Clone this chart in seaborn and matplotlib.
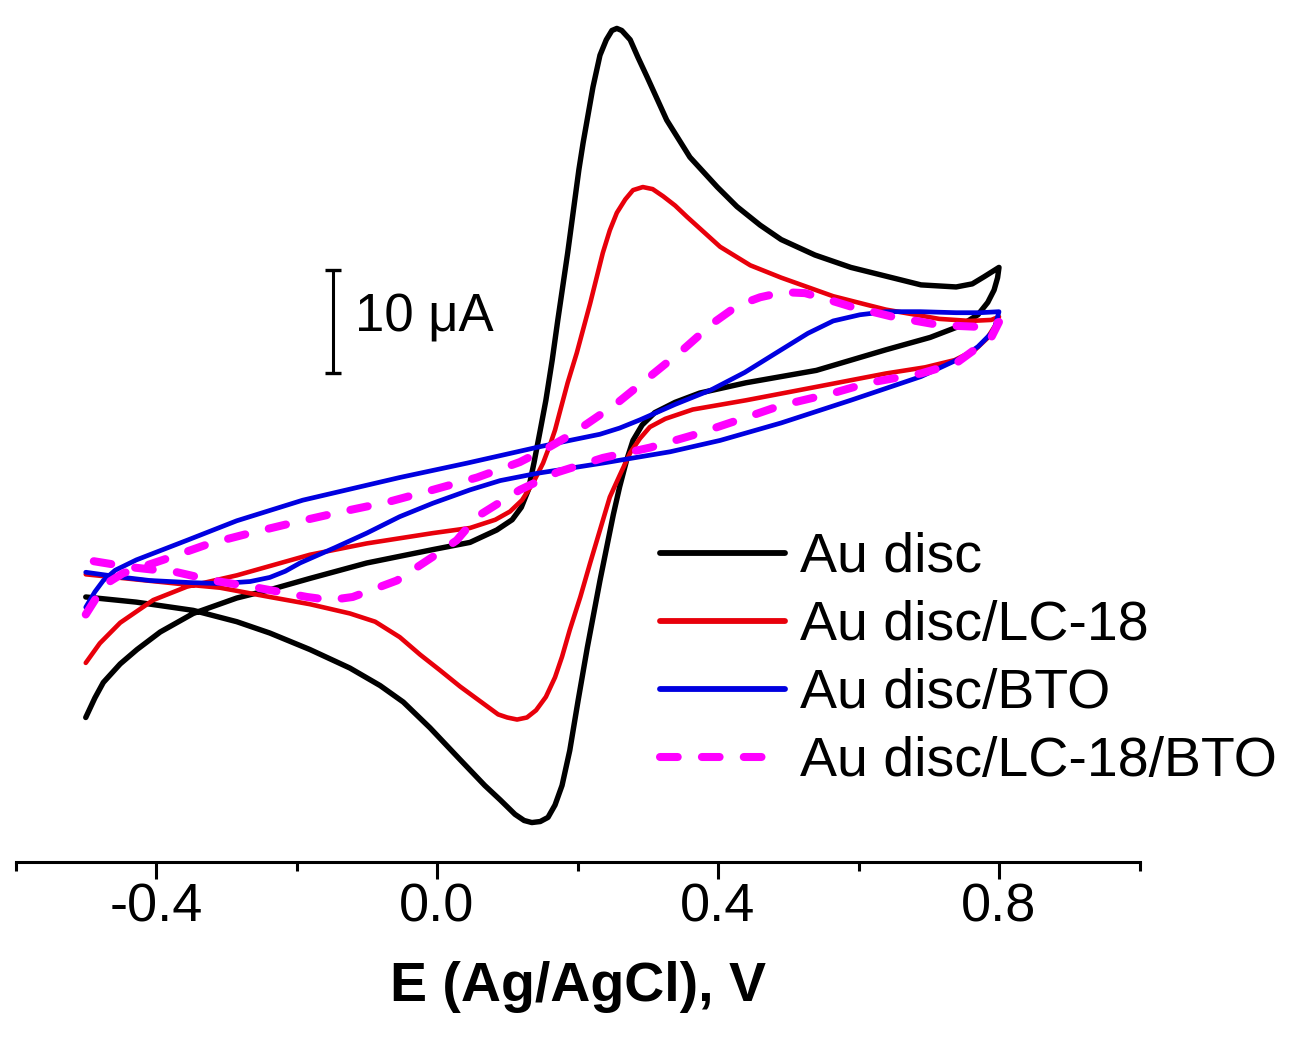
import numpy as np
import pandas as pd
import matplotlib
matplotlib.use('Agg')
import matplotlib.pyplot as plt
import seaborn as sns

# cyclic voltammograms
# potential in V vs Ag/AgCl, current in uA (zero is arbitrary, only the scale bar matters)
# each electrode: forward (anodic) sweep from -0.5 V to 0.8 V, then reverse sweep back to -0.5 V

au_fwd_E = [-0.50, -0.487, -0.475, -0.451, -0.427, -0.394, -0.347, -0.285, -0.238, -0.181, -0.10, -0.006,
            0.047, 0.085, 0.107, 0.120, 0.130, 0.138, 0.147, 0.155, 0.164, 0.172, 0.186, 0.202,
            0.208, 0.222, 0.232, 0.241, 0.249, 0.256, 0.263, 0.275, 0.286, 0.299, 0.327, 0.360,
            0.399, 0.427, 0.460, 0.490, 0.538, 0.589, 0.689, 0.739, 0.762, 0.779, 0.80]
au_fwd_I = [-25.0, -23.1, -21.6, -19.8, -18.4, -16.7, -14.9, -13.4, -12.6, -11.5, -10.0, -8.7,
            -8.0, -6.8, -5.8, -4.6, -2.9, -0.3, 2.9, 5.8, 9.7, 13.6, 20.1, 28.2,
            30.8, 36.2, 39.3, 40.8, 41.7, 41.9, 41.7, 40.8, 39.1, 37.2, 33.0, 29.4,
            26.5, 24.6, 22.8, 21.4, 19.9, 18.7, 17.0, 16.8, 17.1, 17.8, 18.7]
au_rev_E = [0.798, 0.793, 0.784, 0.770, 0.744, 0.702, 0.639, 0.540, 0.440, 0.374, 0.339, 0.310,
            0.292, 0.279, 0.270, 0.260, 0.251, 0.232, 0.214, 0.201, 0.189, 0.178, 0.168, 0.158,
            0.147, 0.135, 0.124, 0.111, 0.090, 0.068, 0.033, -0.010, -0.048, -0.081, -0.124, -0.181,
            -0.238, -0.285, -0.347, -0.428, -0.50]
au_rev_I = [17.7, 16.5, 15.3, 14.1, 13.0, 11.9, 10.7, 8.7, 7.5, 6.5, 5.6, 4.6,
            3.4, 1.9, 0.0, -2.6, -5.3, -11.7, -18.2, -23.3, -28.2, -31.6, -33.5, -34.7,
            -35.1, -35.2, -35.0, -34.4, -33.0, -31.6, -29.1, -26.0, -23.5, -21.9, -20.2, -18.4,
            -16.8, -15.7, -14.6, -13.8, -13.3]

lc_fwd_E = [-0.50, -0.480, -0.451, -0.404, -0.356, -0.285, -0.181, -0.10, -0.006, 0.047, 0.083, 0.104,
            0.121, 0.137, 0.151, 0.161, 0.168, 0.175, 0.186, 0.199, 0.218, 0.236, 0.246, 0.256,
            0.268, 0.279, 0.293, 0.307, 0.322, 0.339, 0.356, 0.403, 0.446, 0.490, 0.564, 0.639,
            0.715, 0.759, 0.789, 0.80]
lc_fwd_I = [-19.7, -17.8, -15.8, -13.6, -12.3, -11.2, -9.2, -8.1, -7.1, -6.6, -5.8, -5.0,
            -3.9, -2.2, -0.3, 1.5, 2.9, 4.7, 7.5, 10.4, 15.2, 20.1, 22.3, 24.0,
            25.3, 26.2, 26.5, 26.3, 25.6, 24.7, 23.6, 20.7, 18.9, 17.7, 15.9, 14.6,
            13.7, 13.5, 13.6, 13.9]
lc_rev_E = [0.794, 0.783, 0.766, 0.737, 0.695, 0.639, 0.540, 0.440, 0.364, 0.325, 0.303, 0.289,
            0.275, 0.260, 0.246, 0.232, 0.218, 0.204, 0.189, 0.178, 0.168, 0.155, 0.141, 0.128,
            0.114, 0.100, 0.087, 0.061, 0.033, 0.004, -0.024, -0.053, -0.088, -0.124, -0.181, -0.238,
            -0.309, -0.356, -0.428, -0.50]
lc_rev_I = [13.0, 11.8, 10.7, 9.7, 9.0, 8.4, 7.1, 5.8, 4.9, 4.0, 3.2, 2.1,
            0.7, -1.5, -3.6, -6.8, -10.0, -13.3, -16.5, -19.1, -21.1, -23.0, -24.3, -25.0,
            -25.2, -25.0, -24.7, -23.4, -22.0, -20.4, -18.9, -17.2, -15.7, -14.9, -14.0, -13.3,
            -12.4, -12.1, -11.6, -11.1]

bto_fwd_E = [-0.50, -0.487, -0.475, -0.458, -0.428, -0.356, -0.285, -0.191, -0.053, 0.043, 0.147, 0.189,
             0.232, 0.260, 0.289, 0.339, 0.390, 0.438, 0.490, 0.528, 0.564, 0.602, 0.639, 0.688,
             0.739, 0.773, 0.80]
bto_fwd_I = [-14.3, -12.8, -11.7, -10.7, -9.7, -7.8, -5.9, -3.9, -1.7, -0.3, 1.3, 1.9,
             2.5, 3.1, 3.9, 5.4, 6.8, 8.5, 10.7, 12.3, 13.5, 14.1, 14.4, 14.4,
             14.3, 14.3, 14.4]
bto_rev_E = [0.794, 0.789, 0.770, 0.749, 0.689, 0.589, 0.490, 0.403, 0.332, 0.236, 0.142, 0.090,
             0.047, -0.006, -0.053, -0.10, -0.145, -0.195, -0.216, -0.238, -0.266, -0.309, -0.352, -0.409,
             -0.458, -0.50]
bto_rev_I = [12.9, 12.3, 11.0, 10.0, 8.1, 5.8, 3.6, 1.9, 0.8, -0.3, -1.3, -2.0,
             -2.9, -4.2, -5.5, -7.1, -8.5, -10.0, -10.8, -11.4, -11.8, -12.0, -11.9, -11.7,
             -11.3, -10.9]

lcbto_fwd_E = [-0.50, -0.487, -0.473, -0.447, -0.390, -0.323, -0.266, -0.199, -0.134, -0.071, -0.006, 0.057,
               0.118, 0.161, 0.194, 0.256, 0.303, 0.350, 0.393, 0.428, 0.460, 0.493, 0.524, 0.560,
               0.589, 0.649, 0.715, 0.779, 0.80]
lcbto_fwd_I = [-15.0, -13.6, -12.1, -11.0, -9.7, -8.1, -7.1, -6.0, -5.0, -4.1, -2.9, -1.7,
               -0.2, 1.3, 2.6, 5.5, 8.1, 10.7, 13.3, 15.0, 15.8, 16.3, 16.2, 15.5,
               14.9, 13.9, 13.1, 12.9, 13.4]
lcbto_rev_E = [0.789, 0.739, 0.689, 0.615, 0.564, 0.490, 0.430, 0.364, 0.303, 0.236, 0.171, 0.118,
               0.057, 0.028, -0.006, -0.057, -0.120, -0.152, -0.185, -0.256, -0.319, -0.370, -0.437, -0.50]
lcbto_rev_I = [11.9, 9.4, 8.4, 7.5, 6.5, 5.3, 3.9, 2.4, 1.2, 0.2, -1.2, -2.9,
               -5.5, -7.8, -9.4, -11.7, -13.3, -13.6, -13.3, -12.4, -11.7, -10.9, -10.4, -9.7]

labels = ['Au disc', 'Au disc/LC-18', 'Au disc/BTO', 'Au disc/LC-18/BTO']
scale_bar_uA = 10

series = {
    labels[0]: (au_fwd_E + au_rev_E, au_fwd_I + au_rev_I),
    labels[1]: (lc_fwd_E + lc_rev_E, lc_fwd_I + lc_rev_I),
    labels[2]: (bto_fwd_E + bto_rev_E, bto_fwd_I + bto_rev_I),
    labels[3]: (lcbto_fwd_E + lcbto_rev_E, lcbto_fwd_I + lcbto_rev_I),
}
frames = []
for name, (e, i) in series.items():
    frames.append(pd.DataFrame({'E': e, 'I': i, 'electrode': name, 'step': np.arange(len(e))}))
df = pd.concat(frames, ignore_index=True)

colors = {labels[0]: '#000000', labels[1]: '#e8000b', labels[2]: '#0000e0', labels[3]: '#ff00ff'}
widths = {labels[0]: 3.9, labels[1]: 3.3, labels[2]: 3.4, labels[3]: 5.8}

sns.set_style('white')
plt.rcParams['font.family'] = ['Liberation Sans', 'DejaVu Sans']
plt.rcParams['axes.unicode_minus'] = False
plt.rcParams['text.color'] = 'black'
plt.rcParams['axes.labelcolor'] = 'black'
plt.rcParams['xtick.color'] = 'black'
plt.rcParams['axes.edgecolor'] = 'black'

fig = plt.figure(figsize=(12.96, 10.39), dpi=100)
ax = fig.add_axes([15.5 / 1296, 177 / 1039, 1124 / 1296, 862 / 1039])

for name in labels:
    sub = df[df['electrode'] == name]
    kw = {}
    if name == labels[3]:
        kw = dict(linestyle=(0, (2.2, 3.0)), dash_capstyle='round')
    sns.lineplot(data=sub, x='E', y='I', sort=False, estimator=None, ax=ax,
                 color=colors[name], lw=widths[name], label=name, **kw)

ax.set_xlim(-0.6, 1.0)
ax.set_ylim(-39.03, 44.66)

# scale bar
sb_x = -0.148
sb_y0 = 8.45
ax.plot([sb_x, sb_x], [sb_y0, sb_y0 + scale_bar_uA], color='black', lw=2.2)
ax.plot([sb_x, sb_x], [sb_y0, sb_y0 + scale_bar_uA], ls='none', marker='_',
        ms=11, mew=2.4, color='black')
ax.text(-0.117, 13.8, '10 \u03bcA', fontsize=38, ha='left', va='center', color='black')

for s in ['top', 'right', 'left']:
    ax.spines[s].set_visible(False)
ax.spines['bottom'].set_linewidth(2.2)
ax.spines['bottom'].set_color('black')
ax.set_xticks([-0.4, 0.0, 0.4, 0.8])
ax.set_xticklabels(['-0.4', '0.0', '0.4', '0.8'])
ax.set_xticks([-0.6, -0.2, 0.2, 0.6, 1.0], minor=True)
ax.tick_params(axis='x', which='major', direction='out', length=12.5, width=2.2,
               labelsize=39, pad=2, bottom=True, colors='black')
ax.tick_params(axis='x', which='minor', direction='out', length=6.5, width=2.2, bottom=True,
               colors='black')
ax.set_yticks([])
ax.set_ylabel('')
ax.set_xlabel('E (Ag/AgCl), V', fontsize=40, fontweight='bold', labelpad=21, color='black')

leg = ax.legend(loc='upper left', bbox_to_anchor=(660 / 1296, 1 - 532 / 1039),
                bbox_transform=fig.transFigure, frameon=False, fontsize=40,
                handlelength=2.25, handletextpad=0.27, labelspacing=0.29,
                borderpad=0, borderaxespad=0)
for t in leg.get_texts():
    t.set_color('black')
for h in leg.get_lines():
    h.set_linewidth(4.2)
leg.get_lines()[3].set_linewidth(5.8)

fig.savefig('out.png', dpi=100)
